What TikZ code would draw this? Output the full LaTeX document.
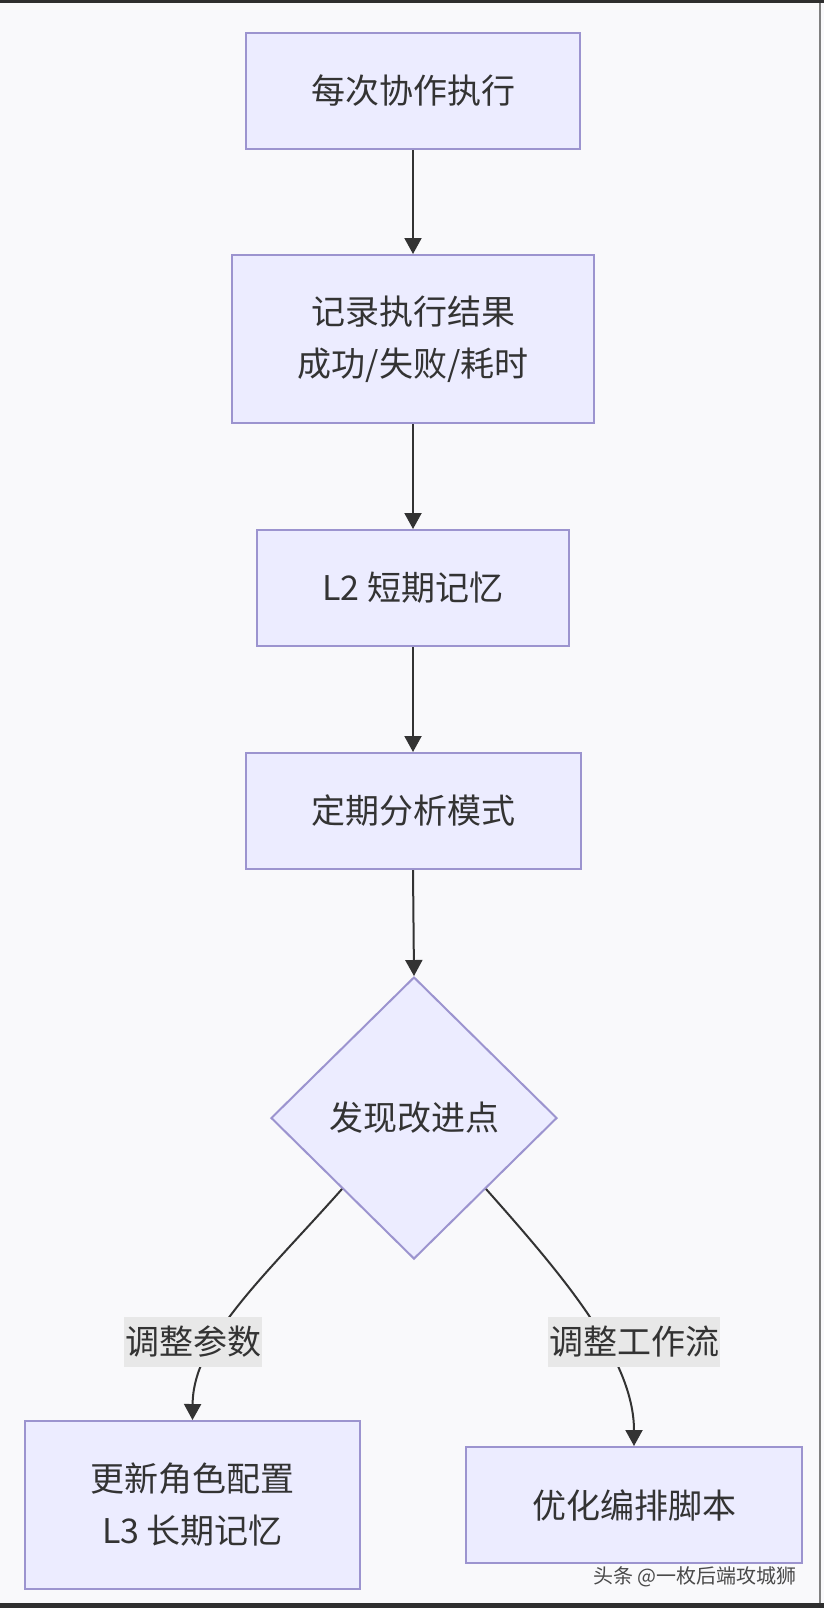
\documentclass[tikz,border=0pt]{standalone}
\usepackage{fontspec}
\setmainfont{Noto Sans CJK SC}
\usetikzlibrary{shapes.geometric,arrows.meta}
\definecolor{boxfill}{HTML}{ECECFF}
\definecolor{boxline}{HTML}{9C94CF}
\definecolor{ink}{HTML}{333333}
\definecolor{paper}{HTML}{F9F9FB}
\definecolor{lblfill}{HTML}{E8E8E8}
\definecolor{frame}{HTML}{2E2E2E}
\definecolor{wmark}{HTML}{4A4A4A}

\begin{document}
\begin{tikzpicture}[x=0.5pt,y=-0.5pt,
    box/.style={draw=boxline,fill=boxfill,line width=1pt,text=ink,align=center,
      inner sep=0pt,font=\fontsize{17}{26}\selectfont},
    decision/.style={box,diamond,aspect=1},
    arr/.style={draw=ink,line width=1pt,-{Triangle[width=8.5pt,length=8pt]}},
    lbl/.style={fill=lblfill,text=ink,inner xsep=0.5pt,inner ysep=0pt,
      minimum height=25pt,font=\fontsize{17}{26}\selectfont}]
    \fill[paper] (0,0) rectangle (824,1608);
    \fill[frame] (0,0) rectangle (824,3);
    \fill[frame] (0,1603) rectangle (824,1608);
    \draw[gray,line width=0.75pt] (820,3) -- (820,1603);
    \useasboundingbox (0,0) rectangle (824,1608);

    \node[box,minimum width=167pt,minimum height=58pt] (exec) at (413,91) {每次协作执行};
    \node[box,minimum width=181pt,minimum height=84pt] (rec) at (413,339) {记录执行结果\\成功/失败/耗时};
    \node[box,minimum width=156pt,minimum height=58pt] (stm) at (413,588) {L2 短期记忆};
    \node[box,minimum width=167.5pt,minimum height=58pt] (ana) at (413,811) {定期分析模式};
    \node[decision,minimum width=143pt,minimum height=141pt] (found) at (414,1118) {发现改进点};
    \node[box,minimum width=167.5pt,minimum height=84pt] (upd) at (192.5,1505) {更新角色配置\\L3 长期记忆};
    \node[box,minimum width=168pt,minimum height=58pt] (opt) at (634,1505) {优化编排脚本};

    \draw[arr] (exec.south) -- (rec.north);
    \draw[arr] (rec.south) -- (stm.north);
    \draw[arr] (stm.south) -- (ana.north);
    \draw[arr] (ana.south) -- (found.north);
    \draw[arr] (found.south west) .. controls (263,1278) and (193,1340) .. (upd.north);
    \draw[arr] (found.south east) .. controls (566,1279) and (634,1360) .. (opt.north);

    \node[lbl] (lpar) at (193,1342) {调整参数};
    \node[lbl] (lflow) at (634,1342) {调整工作流};
    \node[text=wmark,font=\fontsize{10}{12}\selectfont] (wm) at (695,1577) {头条 @一枚后端攻城狮};
\end{tikzpicture}
\end{document}
